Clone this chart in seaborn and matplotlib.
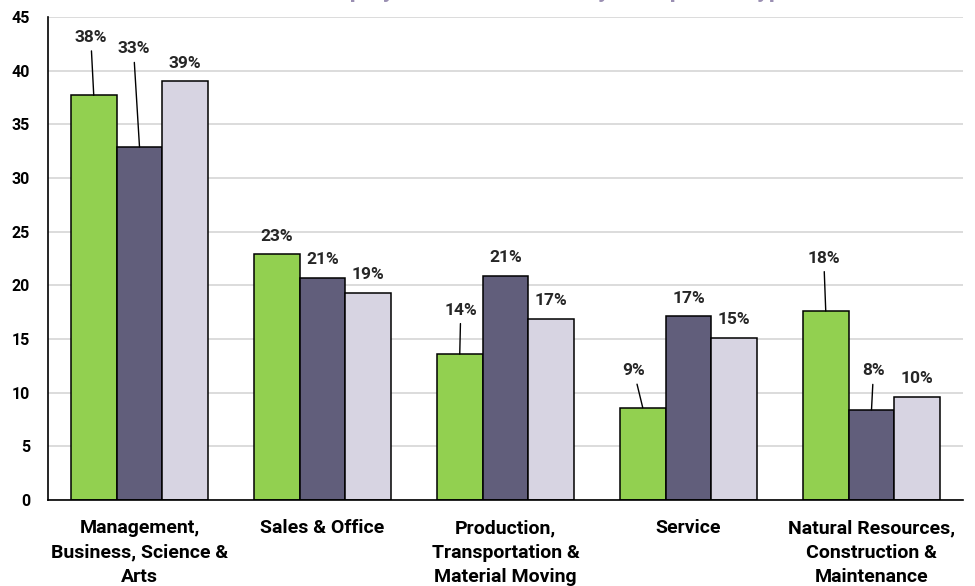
import matplotlib
matplotlib.use("Agg")
import matplotlib.pyplot as plt
import seaborn as sns
import pandas as pd

# Occupation categories and the three series (percent of employed)
categories = [
    "Management,\nBusiness, Science &\nArts",
    "Sales & Office",
    "Production,\nTransportation &\nMaterial Moving",
    "Service",
    "Natural Resources,\nConstruction &\nMaintenance",
]
series_names = ["Group 1", "Group 2", "Group 3"]
group1 = [37.7, 22.9, 13.6, 8.6, 17.6]
group2 = [32.9, 20.7, 20.9, 17.1, 8.4]
group3 = [39.0, 19.3, 16.9, 15.1, 9.6]
y_ticks = [0, 5, 10, 15, 20, 25, 30, 35, 40, 45]
title_text = "Employment Distribution by Occupation Type"

colors = ["#92D050", "#615E7B", "#D7D4E2"]

df = pd.DataFrame({
    "category": categories * 3,
    "series": [s for s in series_names for _ in categories],
    "value": group1 + group2 + group3,
})

sns.set_theme(style="white")
plt.rcParams["font.family"] = ["Roboto", "DejaVu Sans"]

fig = plt.figure(figsize=(9.75, 5.86), dpi=100)
ax = fig.add_axes([48 / 975, 1 - 500 / 586, 915 / 975, 483 / 586])

sns.barplot(
    data=df, x="category", y="value", hue="series", order=categories,
    hue_order=series_names, palette=colors, saturation=1, width=0.75,
    edgecolor="black", linewidth=1.1, legend=False, ax=ax, errorbar=None,
)

ax.set_xlim(-0.5, 4.5)
ax.set_ylim(0, 45)
ax.set_yticks(y_ticks)
ax.set_xlabel("")
ax.set_ylabel("")
ax.yaxis.grid(True, color="#D9D9D9", linewidth=1.3)
ax.set_axisbelow(True)
for side in ("top", "right"):
    ax.spines[side].set_visible(False)
for side in ("left", "bottom"):
    ax.spines[side].set_color("black")
    ax.spines[side].set_linewidth(1.2)
ax.tick_params(axis="y", length=0, pad=13, labelsize=11.5, labelcolor="black")
ax.tick_params(axis="x", length=0, pad=14, labelsize=14, labelcolor="black")
for lbl in ax.get_xticklabels():
    lbl.set_linespacing(1.45)
    lbl.set_fontweight("semibold")
for lbl in ax.get_yticklabels():
    lbl.set_fontweight("semibold")

# Labels that sit away from their bar and use a leader line (pixel offsets)
leader_offsets = {
    (0, 0): (-3, 58), (1, 0): (-6, 98),
    (0, 2): (1, 44),
    (0, 3): (-9, 37),
    (0, 4): (-2, 53), (1, 4): (2, 39),
}

for s_idx, container in enumerate(ax.containers):
    for c_idx, bar in enumerate(container):
        h = bar.get_height()
        x = bar.get_x() + bar.get_width() / 2
        text = f"{h:.0f}%"
        if (s_idx, c_idx) in leader_offsets:
            dx, dy = leader_offsets[(s_idx, c_idx)]
            ax.annotate(
                text, xy=(x, h), xytext=(dx, dy), textcoords="offset pixels",
                ha="center", va="center", fontsize=12.5, fontweight="semibold",
                arrowprops=dict(arrowstyle="-", color="black", lw=1.0,
                                shrinkA=2, shrinkB=0),
            )
        else:
            ax.annotate(
                text, xy=(x, h), xytext=(0, 18), textcoords="offset pixels",
                ha="center", va="center", fontsize=12.5, fontweight="semibold",
            )

fig.text(316 / 975, 1 + 3 / 586, title_text, ha="left", va="baseline",
         fontsize=17, fontweight="bold", color="#9A8FB2")

fig.savefig("out.png", dpi=100)
